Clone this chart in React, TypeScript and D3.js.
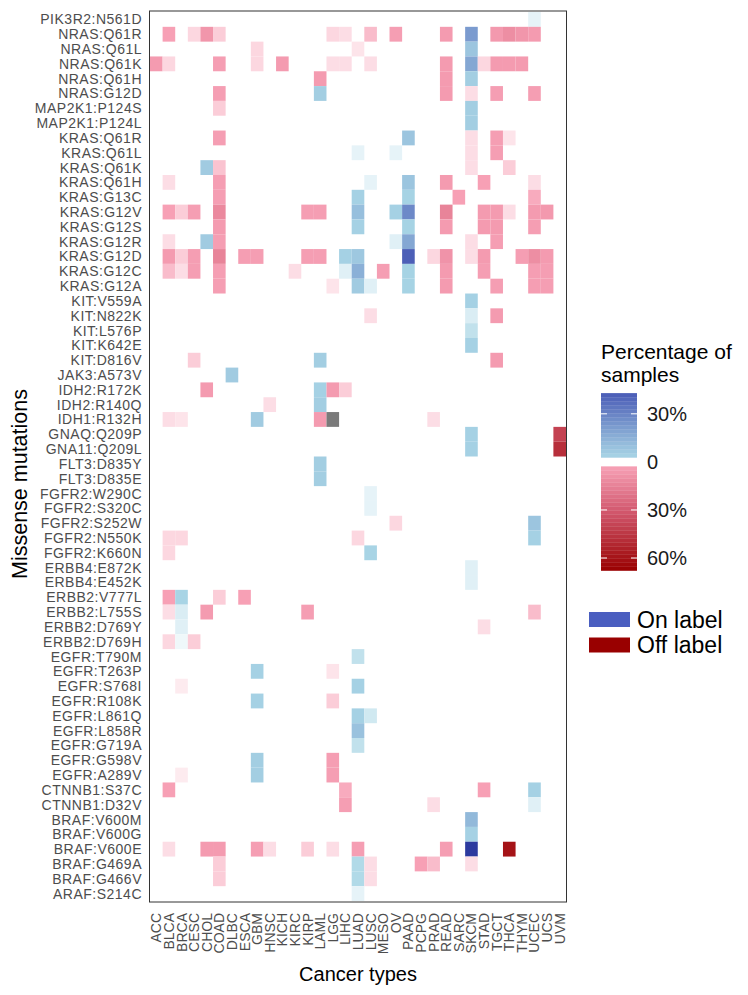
import { useEffect } from 'react'
import * as d3 from 'd3'

// ── Data ──────────────────────────────────────────────────────────────────────
const MUTATIONS = [
  'PIK3R2:N561D', 'NRAS:Q61R', 'NRAS:Q61L', 'NRAS:Q61K', 'NRAS:Q61H', 'NRAS:G12D',
  'MAP2K1:P124S', 'MAP2K1:P124L', 'KRAS:Q61R', 'KRAS:Q61L', 'KRAS:Q61K', 'KRAS:Q61H',
  'KRAS:G13C', 'KRAS:G12V', 'KRAS:G12S', 'KRAS:G12R', 'KRAS:G12D', 'KRAS:G12C',
  'KRAS:G12A', 'KIT:V559A', 'KIT:N822K', 'KIT:L576P', 'KIT:K642E', 'KIT:D816V',
  'JAK3:A573V', 'IDH2:R172K', 'IDH2:R140Q', 'IDH1:R132H', 'GNAQ:Q209P', 'GNA11:Q209L',
  'FLT3:D835Y', 'FLT3:D835E', 'FGFR2:W290C', 'FGFR2:S320C', 'FGFR2:S252W', 'FGFR2:N550K',
  'FGFR2:K660N', 'ERBB4:E872K', 'ERBB4:E452K', 'ERBB2:V777L', 'ERBB2:L755S', 'ERBB2:D769Y',
  'ERBB2:D769H', 'EGFR:T790M', 'EGFR:T263P', 'EGFR:S768I', 'EGFR:R108K', 'EGFR:L861Q',
  'EGFR:L858R', 'EGFR:G719A', 'EGFR:G598V', 'EGFR:A289V', 'CTNNB1:S37C', 'CTNNB1:D32V',
  'BRAF:V600M', 'BRAF:V600G', 'BRAF:V600E', 'BRAF:G469A', 'BRAF:G466V', 'ARAF:S214C',
]

const CANCER_TYPES = [
  'ACC', 'BLCA', 'BRCA', 'CESC', 'CHOL', 'COAD', 'DLBC', 'ESCA', 'GBM', 'HNSC', 'KICH',
  'KIRC', 'KIRP', 'LAML', 'LGG', 'LIHC', 'LUAD', 'LUSC', 'MESO', 'OV', 'PAAD', 'PCPG',
  'PRAD', 'READ', 'SARC', 'SKCM', 'STAD', 'TGCT', 'THCA', 'THYM', 'UCEC', 'UCS', 'UVM',
]

// [mutation, cancer type, label status, % of samples]
type Cell = [string, string, 'on' | 'off' | 'na', number]

const CELLS: Cell[] = [
  ['PIK3R2:N561D', 'UCEC', 'on', 0.8],
  ['NRAS:Q61R', 'BLCA', 'off', 3], ['NRAS:Q61R', 'CESC', 'off', 1.2], ['NRAS:Q61R', 'CHOL', 'off', 7],
  ['NRAS:Q61R', 'COAD', 'off', 1.5], ['NRAS:Q61R', 'LGG', 'off', 1.2], ['NRAS:Q61R', 'LIHC', 'off', 1],
  ['NRAS:Q61R', 'LUSC', 'off', 2], ['NRAS:Q61R', 'OV', 'off', 4], ['NRAS:Q61R', 'READ', 'off', 5],
  ['NRAS:Q61R', 'SKCM', 'on', 22], ['NRAS:Q61R', 'TGCT', 'off', 6], ['NRAS:Q61R', 'THCA', 'off', 10],
  ['NRAS:Q61R', 'THYM', 'off', 7], ['NRAS:Q61R', 'UCEC', 'off', 5],
  ['NRAS:Q61L', 'GBM', 'off', 1.2], ['NRAS:Q61L', 'LUAD', 'off', 0.8], ['NRAS:Q61L', 'SKCM', 'on', 8],
  ['NRAS:Q61K', 'ACC', 'off', 5], ['NRAS:Q61K', 'BLCA', 'off', 1.2], ['NRAS:Q61K', 'COAD', 'off', 4],
  ['NRAS:Q61K', 'GBM', 'off', 1.2], ['NRAS:Q61K', 'KICH', 'off', 5], ['NRAS:Q61K', 'LGG', 'off', 1],
  ['NRAS:Q61K', 'LIHC', 'off', 1], ['NRAS:Q61K', 'LUSC', 'off', 1], ['NRAS:Q61K', 'READ', 'off', 5],
  ['NRAS:Q61K', 'SKCM', 'on', 18], ['NRAS:Q61K', 'STAD', 'off', 1.2], ['NRAS:Q61K', 'TGCT', 'off', 5],
  ['NRAS:Q61K', 'THCA', 'off', 5], ['NRAS:Q61K', 'THYM', 'off', 5],
  ['NRAS:Q61H', 'LAML', 'off', 5], ['NRAS:Q61H', 'READ', 'off', 5], ['NRAS:Q61H', 'SKCM', 'on', 5],
  ['NRAS:G12D', 'COAD', 'off', 4], ['NRAS:G12D', 'LAML', 'on', 5], ['NRAS:G12D', 'READ', 'off', 5],
  ['NRAS:G12D', 'SKCM', 'off', 1], ['NRAS:G12D', 'TGCT', 'off', 4], ['NRAS:G12D', 'UCEC', 'off', 4],
  ['MAP2K1:P124S', 'COAD', 'off', 1.5], ['MAP2K1:P124S', 'SKCM', 'on', 5],
  ['MAP2K1:P124L', 'SKCM', 'on', 5],
  ['KRAS:Q61R', 'COAD', 'off', 4], ['KRAS:Q61R', 'PAAD', 'on', 8], ['KRAS:Q61R', 'SKCM', 'off', 1],
  ['KRAS:Q61R', 'TGCT', 'off', 4], ['KRAS:Q61R', 'THCA', 'off', 0.8],
  ['KRAS:Q61L', 'LUAD', 'on', 0.8], ['KRAS:Q61L', 'OV', 'on', 0.8], ['KRAS:Q61L', 'SKCM', 'off', 1],
  ['KRAS:Q61L', 'TGCT', 'off', 4],
  ['KRAS:Q61K', 'CHOL', 'on', 6], ['KRAS:Q61K', 'COAD', 'off', 1.8], ['KRAS:Q61K', 'SKCM', 'off', 1],
  ['KRAS:Q61K', 'THCA', 'off', 1.5],
  ['KRAS:Q61H', 'BLCA', 'off', 1], ['KRAS:Q61H', 'COAD', 'off', 4], ['KRAS:Q61H', 'LUSC', 'on', 0.8],
  ['KRAS:Q61H', 'PAAD', 'on', 8], ['KRAS:Q61H', 'READ', 'off', 5], ['KRAS:Q61H', 'STAD', 'off', 3],
  ['KRAS:Q61H', 'UCEC', 'off', 1],
  ['KRAS:G13C', 'COAD', 'off', 4], ['KRAS:G13C', 'LUAD', 'on', 4], ['KRAS:G13C', 'PAAD', 'on', 3.5],
  ['KRAS:G13C', 'SARC', 'off', 3], ['KRAS:G13C', 'UCEC', 'off', 2.5],
  ['KRAS:G12V', 'BLCA', 'off', 3], ['KRAS:G12V', 'BRCA', 'off', 1.5], ['KRAS:G12V', 'CESC', 'off', 4],
  ['KRAS:G12V', 'COAD', 'off', 12], ['KRAS:G12V', 'KIRP', 'off', 4], ['KRAS:G12V', 'LAML', 'off', 4],
  ['KRAS:G12V', 'LUAD', 'on', 10], ['KRAS:G12V', 'OV', 'on', 4], ['KRAS:G12V', 'PAAD', 'on', 28],
  ['KRAS:G12V', 'READ', 'off', 14], ['KRAS:G12V', 'STAD', 'off', 5], ['KRAS:G12V', 'TGCT', 'off', 5],
  ['KRAS:G12V', 'THCA', 'off', 1], ['KRAS:G12V', 'UCEC', 'off', 5], ['KRAS:G12V', 'UCS', 'off', 6],
  ['KRAS:G12S', 'COAD', 'off', 5], ['KRAS:G12S', 'LUAD', 'on', 4], ['KRAS:G12S', 'PAAD', 'on', 3.5],
  ['KRAS:G12S', 'READ', 'off', 5], ['KRAS:G12S', 'STAD', 'off', 5], ['KRAS:G12S', 'TGCT', 'off', 5],
  ['KRAS:G12S', 'UCEC', 'off', 4],
  ['KRAS:G12R', 'BLCA', 'off', 1], ['KRAS:G12R', 'CHOL', 'on', 6], ['KRAS:G12R', 'COAD', 'off', 4],
  ['KRAS:G12R', 'OV', 'on', 1], ['KRAS:G12R', 'PAAD', 'on', 18], ['KRAS:G12R', 'SKCM', 'off', 1],
  ['KRAS:G12R', 'TGCT', 'off', 4],
  ['KRAS:G12D', 'BLCA', 'off', 5], ['KRAS:G12D', 'BRCA', 'off', 1.5], ['KRAS:G12D', 'CESC', 'off', 4],
  ['KRAS:G12D', 'COAD', 'off', 14], ['KRAS:G12D', 'ESCA', 'off', 4], ['KRAS:G12D', 'GBM', 'off', 4],
  ['KRAS:G12D', 'KIRP', 'off', 4], ['KRAS:G12D', 'LAML', 'off', 4], ['KRAS:G12D', 'LIHC', 'on', 4],
  ['KRAS:G12D', 'LUAD', 'on', 7], ['KRAS:G12D', 'PAAD', 'on', 42], ['KRAS:G12D', 'PRAD', 'off', 1.2],
  ['KRAS:G12D', 'READ', 'off', 8], ['KRAS:G12D', 'SKCM', 'off', 1], ['KRAS:G12D', 'STAD', 'off', 5],
  ['KRAS:G12D', 'THYM', 'off', 4], ['KRAS:G12D', 'UCEC', 'off', 10], ['KRAS:G12D', 'UCS', 'off', 5],
  ['KRAS:G12C', 'BLCA', 'off', 2], ['KRAS:G12C', 'BRCA', 'off', 1], ['KRAS:G12C', 'CESC', 'off', 4],
  ['KRAS:G12C', 'COAD', 'off', 4], ['KRAS:G12C', 'KIRC', 'off', 1], ['KRAS:G12C', 'LIHC', 'on', 1],
  ['KRAS:G12C', 'LUAD', 'on', 15], ['KRAS:G12C', 'MESO', 'off', 4], ['KRAS:G12C', 'PAAD', 'on', 3.5],
  ['KRAS:G12C', 'READ', 'off', 5], ['KRAS:G12C', 'STAD', 'off', 4], ['KRAS:G12C', 'UCEC', 'off', 4],
  ['KRAS:G12C', 'UCS', 'off', 4],
  ['KRAS:G12A', 'COAD', 'off', 4], ['KRAS:G12A', 'LGG', 'off', 0.8], ['KRAS:G12A', 'LUAD', 'on', 6],
  ['KRAS:G12A', 'LUSC', 'on', 1], ['KRAS:G12A', 'PAAD', 'on', 3.5], ['KRAS:G12A', 'READ', 'off', 5],
  ['KRAS:G12A', 'TGCT', 'off', 4], ['KRAS:G12A', 'UCEC', 'off', 4], ['KRAS:G12A', 'UCS', 'off', 4],
  ['KIT:V559A', 'SKCM', 'on', 4],
  ['KIT:N822K', 'LUSC', 'off', 1], ['KIT:N822K', 'SKCM', 'on', 1.2], ['KIT:N822K', 'TGCT', 'off', 5],
  ['KIT:L576P', 'SKCM', 'on', 2],
  ['KIT:K642E', 'SKCM', 'on', 4],
  ['KIT:D816V', 'CESC', 'off', 1.5], ['KIT:D816V', 'LAML', 'on', 5], ['KIT:D816V', 'TGCT', 'off', 5],
  ['JAK3:A573V', 'DLBC', 'on', 6],
  ['IDH2:R172K', 'CHOL', 'off', 5], ['IDH2:R172K', 'LAML', 'on', 4], ['IDH2:R172K', 'LGG', 'off', 5],
  ['IDH2:R172K', 'LIHC', 'off', 1.5],
  ['IDH2:R140Q', 'HNSC', 'off', 1], ['IDH2:R140Q', 'LAML', 'on', 5],
  ['IDH1:R132H', 'BLCA', 'off', 1], ['IDH1:R132H', 'BRCA', 'off', 0.8], ['IDH1:R132H', 'GBM', 'on', 6],
  ['IDH1:R132H', 'LAML', 'off', 5], ['IDH1:R132H', 'LGG', 'na', 0], ['IDH1:R132H', 'PRAD', 'off', 1],
  ['GNAQ:Q209P', 'SKCM', 'on', 4], ['GNAQ:Q209P', 'UVM', 'off', 40],
  ['GNA11:Q209L', 'SKCM', 'on', 4], ['GNA11:Q209L', 'UVM', 'off', 48],
  ['FLT3:D835Y', 'LAML', 'on', 5],
  ['FLT3:D835E', 'LAML', 'on', 5],
  ['FGFR2:W290C', 'LUSC', 'on', 0.8],
  ['FGFR2:S320C', 'LUSC', 'on', 0.8],
  ['FGFR2:S252W', 'OV', 'off', 1.2], ['FGFR2:S252W', 'UCEC', 'on', 8],
  ['FGFR2:N550K', 'BLCA', 'off', 1.2], ['FGFR2:N550K', 'BRCA', 'off', 1.2], ['FGFR2:N550K', 'LUAD', 'off', 1.2],
  ['FGFR2:N550K', 'UCEC', 'on', 4],
  ['FGFR2:K660N', 'BLCA', 'off', 1.2], ['FGFR2:K660N', 'LUSC', 'on', 3],
  ['ERBB4:E872K', 'SKCM', 'on', 1],
  ['ERBB4:E452K', 'SKCM', 'on', 1],
  ['ERBB2:V777L', 'BLCA', 'off', 3], ['ERBB2:V777L', 'BRCA', 'on', 3], ['ERBB2:V777L', 'COAD', 'off', 1.5],
  ['ERBB2:V777L', 'ESCA', 'off', 3],
  ['ERBB2:L755S', 'BLCA', 'off', 1], ['ERBB2:L755S', 'BRCA', 'on', 1.2], ['ERBB2:L755S', 'CHOL', 'off', 5],
  ['ERBB2:L755S', 'KIRP', 'off', 4], ['ERBB2:L755S', 'UCEC', 'off', 2],
  ['ERBB2:D769Y', 'BRCA', 'on', 1], ['ERBB2:D769Y', 'STAD', 'off', 1],
  ['ERBB2:D769H', 'BLCA', 'off', 1.2], ['ERBB2:D769H', 'BRCA', 'on', 0.5], ['ERBB2:D769H', 'CESC', 'off', 1.5],
  ['EGFR:T790M', 'LUAD', 'on', 2],
  ['EGFR:T263P', 'GBM', 'on', 4], ['EGFR:T263P', 'LGG', 'off', 0.8],
  ['EGFR:S768I', 'BRCA', 'off', 0.6], ['EGFR:S768I', 'LUAD', 'on', 4],
  ['EGFR:R108K', 'GBM', 'on', 4], ['EGFR:R108K', 'LGG', 'off', 1.5],
  ['EGFR:L861Q', 'LUAD', 'on', 4], ['EGFR:L861Q', 'LUSC', 'on', 1.5],
  ['EGFR:L858R', 'LUAD', 'on', 9],
  ['EGFR:G719A', 'LUAD', 'on', 2],
  ['EGFR:G598V', 'GBM', 'on', 5], ['EGFR:G598V', 'LGG', 'off', 4],
  ['EGFR:A289V', 'BRCA', 'off', 0.6], ['EGFR:A289V', 'GBM', 'on', 5], ['EGFR:A289V', 'LGG', 'off', 4],
  ['CTNNB1:S37C', 'BLCA', 'off', 3], ['CTNNB1:S37C', 'LIHC', 'off', 2.5], ['CTNNB1:S37C', 'STAD', 'off', 3],
  ['CTNNB1:S37C', 'UCEC', 'on', 4],
  ['CTNNB1:D32V', 'LIHC', 'off', 4], ['CTNNB1:D32V', 'PRAD', 'off', 1], ['CTNNB1:D32V', 'UCEC', 'on', 1],
  ['BRAF:V600M', 'SKCM', 'on', 12],
  ['BRAF:V600G', 'SKCM', 'on', 4],
  ['BRAF:V600E', 'BLCA', 'off', 1], ['BRAF:V600E', 'CHOL', 'off', 5], ['BRAF:V600E', 'COAD', 'off', 5],
  ['BRAF:V600E', 'GBM', 'off', 4], ['BRAF:V600E', 'HNSC', 'off', 1], ['BRAF:V600E', 'KIRP', 'off', 1.5],
  ['BRAF:V600E', 'LGG', 'off', 1], ['BRAF:V600E', 'LUAD', 'off', 4], ['BRAF:V600E', 'READ', 'off', 4],
  ['BRAF:V600E', 'SKCM', 'on', 55], ['BRAF:V600E', 'THCA', 'off', 60],
  ['BRAF:G469A', 'COAD', 'off', 1.5], ['BRAF:G469A', 'LUAD', 'on', 2.5], ['BRAF:G469A', 'LUSC', 'off', 1],
  ['BRAF:G469A', 'PCPG', 'off', 3], ['BRAF:G469A', 'PRAD', 'off', 2], ['BRAF:G469A', 'SKCM', 'off', 1],
  ['BRAF:G466V', 'COAD', 'off', 1.5], ['BRAF:G466V', 'LUAD', 'on', 2.5], ['BRAF:G466V', 'LUSC', 'off', 1],
  ['ARAF:S214C', 'LUAD', 'on', 0.8],
]

// colour bar: blue (on label) above 0, red (off label) below
const ON_TICKS = [30]
const OFF_TICKS = [30, 60]
const ON_MAX = 43
const OFF_MAX = 67.8
const BAR_GAP = 2.8

const LEGEND_KEYS = [
  { label: 'On label', color: '#4a5ec0' },
  { label: 'Off label', color: '#990000' },
]

// ── Layout ────────────────────────────────────────────────────────────────────
const W = 748
const H = 995
const PANEL = { left: 150, right: 566, top: 12, bottom: 901 }
const FONT = '"Liberation Sans", Arial, Helvetica, sans-serif'
const TICK_COLOR = '#4d4d4d'

const onColor = d3.scaleLinear<string>()
  .domain([0, BAR_GAP, ON_MAX, 55])
  .range(['#ffffff', '#a8d5e5', '#4a5cb6', '#2c3a9f'])
  .clamp(true)

const offColor = d3.scaleLinear<string>()
  .domain([0, BAR_GAP, 30, OFF_MAX])
  .range(['#ffffff', '#f7a1b6', '#d35a70', '#990000'])
  .clamp(true)

function fillFor(c: Cell) {
  if (c[2] === 'na') return '#7a7a7a'
  return c[2] === 'on' ? onColor(c[3]) : offColor(c[3])
}

export default function App() {
  useEffect(() => {
    document.body.style.margin = '0'
  }, [])

  const x = d3.scaleBand<string>().domain(CANCER_TYPES).range([PANEL.left, PANEL.right])
  const y = d3.scaleBand<string>().domain(MUTATIONS).range([PANEL.top, PANEL.bottom])

  // legend colour bar position: on-label % upward, off-label % downward
  const barX = 601
  const barW = 36
  const barY = d3.scaleLinear().domain([-ON_MAX, OFF_MAX]).range([393, 570.5])
  const step = 2.5
  const onBands = d3.range(BAR_GAP, ON_MAX, step).map(v => [v, Math.min(v + step, ON_MAX)])
  const offBands = d3.range(BAR_GAP, OFF_MAX, step).map(v => [v, Math.min(v + step, OFF_MAX)])

  return (
    <svg width={W} height={H} style={{ display: 'block', background: '#fff' }} fontFamily={FONT}>
      {/* cells */}
      {CELLS.map((c, i) => (
        <rect key={i} x={x(c[1])} y={y(c[0])} width={x.bandwidth()} height={y.bandwidth()}
          fill={fillFor(c)} />
      ))}

      {/* panel border */}
      <rect x={PANEL.left - 0.5} y={PANEL.top - 1} width={PANEL.right - PANEL.left + 1}
        height={PANEL.bottom - PANEL.top + 2} fill="none" stroke="#333" strokeWidth={1} />

      {/* y tick labels */}
      {MUTATIONS.map(m => (
        <text key={m} x={PANEL.left - 8} y={y(m)! + y.bandwidth() / 2} textAnchor="end"
          dominantBaseline="central" fontSize={14} letterSpacing={0.5} fill={TICK_COLOR}>{m}</text>
      ))}

      {/* x tick labels */}
      {CANCER_TYPES.map(c => (
        <text key={c} transform={`translate(${x(c)! + x.bandwidth() / 2},${PANEL.bottom + 12}) rotate(-90)`}
          textAnchor="end" dominantBaseline="central" fontSize={14} fill={TICK_COLOR}>{c}</text>
      ))}

      {/* axis titles */}
      <text x={(PANEL.left + PANEL.right) / 2} y={981} textAnchor="middle" fontSize={20}
        fill="#000">Cancer types</text>
      <text transform={`translate(27,484) rotate(-90)`} textAnchor="middle" fontSize={21.5}
        fill="#000">Missense mutations</text>

      {/* legend title */}
      <text x={601} y={359} fontSize={21} fill="#000">Percentage of</text>
      <text x={601} y={382} fontSize={21} fill="#000">samples</text>

      {/* colour bars */}
      {onBands.map(([a, b]) => (
        <rect key={`on${a}`} x={barX} y={barY(-b)} width={barW} height={barY(-a) - barY(-b) + 0.3}
          fill={onColor((a + b) / 2)} />
      ))}
      {offBands.map(([a, b]) => (
        <rect key={`off${a}`} x={barX} y={barY(a)} width={barW} height={barY(b) - barY(a) + 0.3}
          fill={offColor((a + b) / 2)} />
      ))}
      {[...ON_TICKS.map(t => -t), ...OFF_TICKS].map(t => (
        <g key={`t${t}`} stroke="#fff" strokeWidth={1}>
          <line x1={barX} x2={barX + 6} y1={barY(t)} y2={barY(t)} />
          <line x1={barX + barW - 6} x2={barX + barW} y1={barY(t)} y2={barY(t)} />
        </g>
      ))}
      {ON_TICKS.map(t => (
        <text key={`ol${t}`} x={647} y={barY(-t)} dominantBaseline="central" fontSize={20}
          fill="#1a1a1a">{`${t}%`}</text>
      ))}
      <text x={647} y={barY(0)} dominantBaseline="central" fontSize={20} fill="#1a1a1a">0</text>
      {OFF_TICKS.map(t => (
        <text key={`fl${t}`} x={647} y={barY(t)} dominantBaseline="central" fontSize={20}
          fill="#1a1a1a">{`${t}%`}</text>
      ))}

      {/* on / off label keys */}
      {LEGEND_KEYS.map((k, i) => (
        <g key={k.label} transform={`translate(589,${612 + i * 25.5})`}>
          <rect width={41} height={15} fill={k.color} />
          <text x={48} y={7.5} dominantBaseline="central" fontSize={23} fill="#000">{k.label}</text>
        </g>
      ))}
    </svg>
  )
}
